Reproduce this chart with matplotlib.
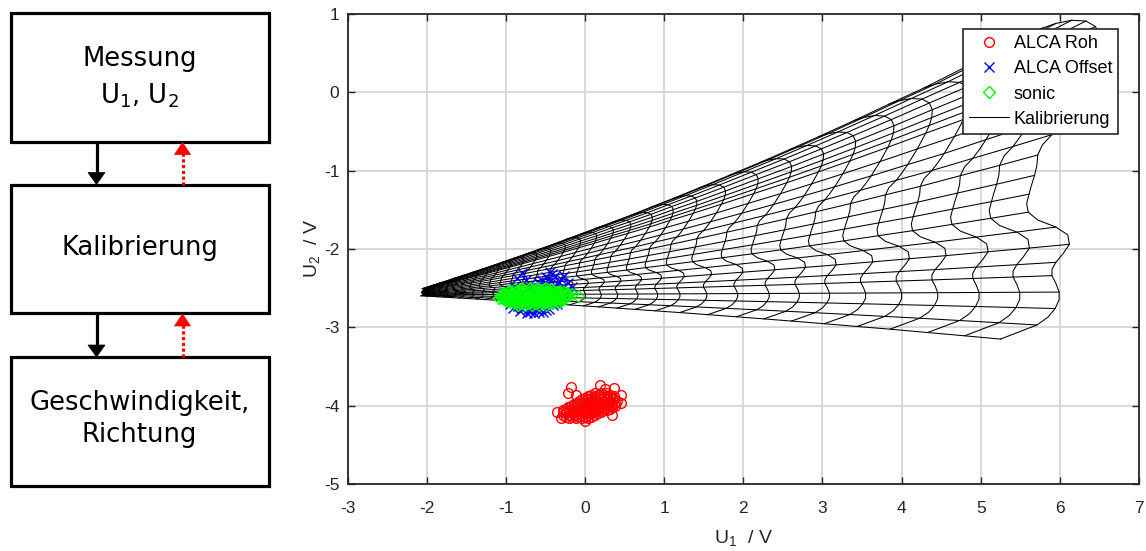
import numpy as np
import matplotlib
matplotlib.use('Agg')
import matplotlib.pyplot as plt
from matplotlib.patches import Rectangle, Polygon
from matplotlib.lines import Line2D

plt.rcParams['font.family'] = ['Liberation Sans', 'DejaVu Sans']
plt.rcParams['mathtext.fontset'] = 'custom'
plt.rcParams['mathtext.rm'] = 'Liberation Sans'
plt.rcParams['mathtext.default'] = 'regular'
plt.rcParams['axes.unicode_minus'] = False

# ---------------- data ----------------
# outer (highest speed) calibration curve, read bottom -> top  (U1 / V, U2 / V)
outer_u1 = [5.25, 5.48, 5.71, 5.85, 5.94, 5.99, 5.99, 5.95, 5.90, 5.90,
            5.95, 6.04, 6.12, 6.10, 5.95, 5.72, 5.60, 5.58, 5.61, 5.64,
            5.68, 5.71, 5.72, 5.78, 5.90, 6.00, 6.09, 6.17, 6.25, 6.32,
            6.39, 6.45, 6.49, 6.50, 6.45, 6.33, 6.15, 5.95, 5.78]
outer_u2 = [-3.15, -3.06, -2.97, -2.87, -2.76, -2.65, -2.55, -2.44, -2.34, -2.26,
            -2.17, -2.06, -1.94, -1.82, -1.72, -1.63, -1.53, -1.42, -1.30, -1.19,
            -1.06, -0.93, -0.80, -0.67, -0.54, -0.40, -0.26, -0.12, 0.02, 0.16,
            0.30, 0.44, 0.58, 0.72, 0.84, 0.91, 0.92, 0.88, 0.82]
# points of the outer curve where the constant-direction lines end
direction_nodes = [0, 2, 4, 6, 8, 10, 12, 14, 16, 18, 20, 22, 24, 26, 28,
                   30, 31, 32, 33, 34, 35, 36, 37, 38]
# point where the calibration fan converges
fan_origin = (-2.3, -2.585)
# relative size of every constant-speed curve (horizontal / vertical)
speed_scale_u1 = [1.000, 0.940, 0.878, 0.815, 0.760, 0.705, 0.650, 0.604, 0.558,
                  0.510, 0.463, 0.422, 0.388, 0.358, 0.327, 0.302, 0.278, 0.255,
                  0.233, 0.212, 0.192, 0.173, 0.155, 0.138, 0.122, 0.107, 0.093,
                  0.080, 0.068, 0.057, 0.047, 0.038, 0.030]
speed_scale_u2 = [1.000, 0.926, 0.852, 0.776, 0.715, 0.653, 0.593, 0.544, 0.496,
                  0.448, 0.401, 0.361, 0.329, 0.300, 0.272, 0.250, 0.228, 0.208,
                  0.188, 0.170, 0.153, 0.137, 0.122, 0.108, 0.095, 0.083, 0.072,
                  0.062, 0.052, 0.044, 0.036, 0.029, 0.023]

roh_u1 = [-0.20, -0.12, -0.04, 0.04,
          -0.28, -0.20, -0.12, -0.04, 0.04, 0.12,
          -0.28, -0.20, -0.12, -0.04, 0.04, 0.12, 0.20,
          -0.24, -0.16, -0.08, 0.00, 0.08, 0.16, 0.24, 0.32,
          -0.18, -0.10, -0.02, 0.06, 0.14, 0.22, 0.30, 0.38,
          -0.10, -0.02, 0.06, 0.14, 0.22, 0.30, 0.38,
          -0.04, 0.04, 0.12, 0.20, 0.28, 0.36,
          0.04, 0.12, 0.20, 0.28, 0.36,
          0.12, 0.20, 0.28,
          -0.24, -0.16, -0.08, 0.00, 0.08,
          -0.24, -0.16, -0.08, 0.00, 0.08, 0.16,
          -0.28, -0.20, -0.12, -0.04, 0.04, 0.12, 0.20, 0.28,
          -0.22, -0.14, -0.06, 0.02, 0.10, 0.18, 0.26, 0.34,
          -0.14, -0.06, 0.02, 0.10, 0.18, 0.26, 0.34,
          -0.08, 0.00, 0.08, 0.16, 0.24, 0.32, 0.40,
          0.00, 0.08, 0.16, 0.24, 0.32,
          0.08, 0.16, 0.24, 0.32,
          -0.18, -0.22, 0.19, 0.36, 0.45, 0.45, 0.34, -0.35, -0.30, 0.00, 0.25, -0.12]
roh_u2 = [-4.16, -4.16, -4.16, -4.16,
          -4.12, -4.12, -4.12, -4.12, -4.12, -4.12,
          -4.08, -4.08, -4.08, -4.08, -4.08, -4.08, -4.08,
          -4.04, -4.04, -4.04, -4.04, -4.04, -4.04, -4.04, -4.04,
          -4.00, -4.00, -4.00, -4.00, -4.00, -4.00, -4.00, -4.00,
          -3.96, -3.96, -3.96, -3.96, -3.96, -3.96, -3.96,
          -3.92, -3.92, -3.92, -3.92, -3.92, -3.92,
          -3.88, -3.88, -3.88, -3.88, -3.88,
          -3.84, -3.84, -3.84,
          -4.14, -4.14, -4.14, -4.14, -4.14,
          -4.10, -4.10, -4.10, -4.10, -4.10, -4.10,
          -4.06, -4.06, -4.06, -4.06, -4.06, -4.06, -4.06, -4.06,
          -4.02, -4.02, -4.02, -4.02, -4.02, -4.02, -4.02, -4.02,
          -3.98, -3.98, -3.98, -3.98, -3.98, -3.98, -3.98,
          -3.94, -3.94, -3.94, -3.94, -3.94, -3.94, -3.94,
          -3.90, -3.90, -3.90, -3.90, -3.90,
          -3.86, -3.86, -3.86, -3.86,
          -3.76, -3.84, -3.74, -3.78, -3.87, -3.97, -4.12, -4.08, -4.16, -4.20, -3.79, -3.86]

offset_u1 = [-0.80, -0.86, -0.44, -0.27, -0.17, -0.50, -0.38, -0.33, -0.22, -0.60,
             -0.70, -0.48, -0.40, -0.28, -0.55, -0.30, -0.45, -0.75, -0.90, -0.65,
             -0.65, -0.91, -0.53, -0.60, -0.70, -0.80, -0.85, -0.45, -0.55, -0.75,
             -0.95, -0.40, -0.62, -0.68, -0.35, -1.00, -0.20, -0.30, -0.90,
             -0.42, -0.35, -0.52, -0.58, -0.72, -0.50, -0.82, -0.74]
offset_u2 = [-2.31, -2.37, -2.29, -2.35, -2.48, -2.36, -2.34, -2.42, -2.44, -2.42,
             -2.45, -2.45, -2.48, -2.48, -2.40, -2.38, -2.38, -2.40, -2.48, -2.47,
             -2.82, -2.75, -2.80, -2.78, -2.80, -2.76, -2.73, -2.76, -2.74, -2.72,
             -2.70, -2.72, -2.76, -2.74, -2.70, -2.60, -2.56, -2.60, -2.55,
             -2.32, -2.44, -2.43, -2.81, -2.77, -2.78, -2.79, -2.82]

sonic_u1 = [-0.80, -0.70, -0.60, -0.50,
            -0.95, -0.86, -0.77, -0.68, -0.59, -0.50, -0.41, -0.32,
            -1.02, -0.93, -0.84, -0.75, -0.66, -0.57, -0.48, -0.39, -0.30, -0.23,
            -1.06, -0.97, -0.88, -0.79, -0.70, -0.61, -0.52, -0.43, -0.34, -0.26,
            -1.05, -0.96, -0.87, -0.78, -0.69, -0.60, -0.51, -0.42, -0.33, -0.25,
            -1.01, -0.92, -0.83, -0.74, -0.65, -0.56, -0.47, -0.38, -0.29,
            -0.95, -0.86, -0.77, -0.68, -0.59, -0.50, -0.41, -0.33,
            -0.85, -0.76, -0.67, -0.58, -0.49,
            -0.88, -0.79, -0.70, -0.61, -0.52, -0.43,
            -0.98, -0.89, -0.80, -0.71, -0.62, -0.53, -0.44, -0.35, -0.27,
            -1.03, -0.94, -0.85, -0.76, -0.67, -0.58, -0.49, -0.40, -0.31, -0.22,
            -1.04, -0.95, -0.86, -0.77, -0.68, -0.59, -0.50, -0.41, -0.32, -0.23,
            -1.02, -0.93, -0.84, -0.75, -0.66, -0.57, -0.48, -0.39, -0.30,
            -0.98, -0.89, -0.80, -0.71, -0.62, -0.53, -0.44, -0.35,
            -0.90, -0.81, -0.72, -0.63, -0.54, -0.45,
            -0.085, -0.17, -1.09]
sonic_u2 = [-2.50, -2.50, -2.50, -2.50,
            -2.53, -2.53, -2.53, -2.53, -2.53, -2.53, -2.53, -2.53,
            -2.56, -2.56, -2.56, -2.56, -2.56, -2.56, -2.56, -2.56, -2.56, -2.56,
            -2.59, -2.59, -2.59, -2.59, -2.59, -2.59, -2.59, -2.59, -2.59, -2.59,
            -2.62, -2.62, -2.62, -2.62, -2.62, -2.62, -2.62, -2.62, -2.62, -2.62,
            -2.65, -2.65, -2.65, -2.65, -2.65, -2.65, -2.65, -2.65, -2.65,
            -2.68, -2.68, -2.68, -2.68, -2.68, -2.68, -2.68, -2.68,
            -2.71, -2.71, -2.71, -2.71, -2.71,
            -2.515, -2.515, -2.515, -2.515, -2.515, -2.515,
            -2.545, -2.545, -2.545, -2.545, -2.545, -2.545, -2.545, -2.545, -2.545,
            -2.575, -2.575, -2.575, -2.575, -2.575, -2.575, -2.575, -2.575, -2.575, -2.575,
            -2.605, -2.605, -2.605, -2.605, -2.605, -2.605, -2.605, -2.605, -2.605, -2.605,
            -2.635, -2.635, -2.635, -2.635, -2.635, -2.635, -2.635, -2.635, -2.635,
            -2.665, -2.665, -2.665, -2.665, -2.665, -2.665, -2.665, -2.665,
            -2.695, -2.695, -2.695, -2.695, -2.695, -2.695,
            -2.60, -2.58, -2.62]

x_ticks = [-3, -2, -1, 0, 1, 2, 3, 4, 5, 6, 7]
y_ticks = [-5, -4, -3, -2, -1, 0, 1]

flow_lines = [['Messung', r'U$_1$, U$_2$'], ['Kalibrierung'], ['Geschwindigkeit,', 'Richtung']]
flow_line_y = [[59, 96], [248], [403, 435]]

# ---------------- figure ----------------
fig = plt.figure(figsize=(11.46, 5.51), dpi=100)

# flow chart (pixel coordinates)
fc = fig.add_axes([0, 0, 1, 1])
fc.set_xlim(0, 1146)
fc.set_ylim(551, 0)
fc.axis('off')
box_tops = [13, 184.5, 357]
for top, lines, ys in zip(box_tops, flow_lines, flow_line_y):
    fc.add_patch(Rectangle((10.5, top), 258.5, 128.5, fill=False, ec='black', lw=2.3))
    for txt, yy in zip(lines, ys):
        fc.text(139.5, yy, txt, ha='center', va='center', fontsize=18.6,
                family='DejaVu Sans')
for k in range(2):
    b_bot = box_tops[k] + 128.5
    b_top = box_tops[k + 1]
    # black arrow down
    fc.plot([96.5, 96.5], [b_bot, b_top - 11], color='black', lw=2.3, solid_capstyle='butt')
    fc.add_patch(Polygon([[88, b_top - 12], [105, b_top - 12], [96.5, b_top]],
                         closed=True, fc='black', ec='black', lw=0.5))
    # red dotted arrow up
    fc.plot([182.5, 182.5], [b_top, b_bot + 12], color='red', lw=2.3,
            linestyle=(0, (1.0, 0.8)), dash_capstyle='butt')
    fc.add_patch(Polygon([[174.5, b_bot + 13], [190.5, b_bot + 13], [182.5, b_bot + 1]],
                         closed=True, fc='red', ec='red', lw=0.5))

# chart
ax = fig.add_axes([0.3034, 0.1216, 0.6905, 0.853])
ax.set_xlim(-3, 7)
ax.set_ylim(-5, 1)
ax.set_xticks(x_ticks)
ax.set_yticks(y_ticks)
ax.grid(True, color='#d5d5d5', lw=1.3)
ax.set_axisbelow(True)
ax.tick_params(direction='in', top=True, right=True, length=5, width=1,
               color='#262626', labelcolor='#262626', labelsize=12.5)
ax.tick_params(axis='x', pad=12)
ax.tick_params(axis='y', pad=6)
for s in ax.spines.values():
    s.set_color('#262626')
    s.set_linewidth(1.3)

ou1 = np.array(outer_u1)
ou2 = np.array(outer_u2)
sx = np.array(speed_scale_u1)
sy = np.array(speed_scale_u2)
cu1 = fan_origin[0] + sx[:, None] * (ou1[None, :] - fan_origin[0])
cu2 = fan_origin[1] + sy[:, None] * (ou2[None, :] - fan_origin[1])

mesh_kw = dict(color='black', lw=0.75, zorder=2)
for i in range(len(sx)):
    ax.plot(cu1[i], cu2[i], **mesh_kw)
for k in direction_nodes:
    ax.plot(cu1[:, k], cu2[:, k], **mesh_kw)

ax.plot(roh_u1, roh_u2, ls='none', marker='o', ms=7, mfc='none', mec=(1, 0, 0), mew=1.0, zorder=3)
ax.plot(offset_u1, offset_u2, ls='none', marker='x', ms=7, mec=(0, 0, 1), mew=1.0, zorder=4)
ax.plot(sonic_u1, sonic_u2, ls='none', marker='D', ms=6, mfc='none', mec=(0, 1, 0), mew=1.0, zorder=5)

handles = [Line2D([], [], ls='none', marker='o', ms=7, mfc='none', mec=(1, 0, 0), mew=1.0),
           Line2D([], [], ls='none', marker='x', ms=7, mec=(0, 0, 1), mew=1.0),
           Line2D([], [], ls='none', marker='D', ms=6, mfc='none', mec=(0, 1, 0), mew=1.0),
           Line2D([], [], color='black', lw=0.75)]
labels = ['ALCA Roh', 'ALCA Offset', 'sonic', 'Kalibrierung']
leg = ax.legend(handles, labels, loc='upper right', bbox_to_anchor=(0.974, 0.968),
                borderaxespad=0, fancybox=False, edgecolor='#262626', framealpha=1,
                fontsize=13, handlelength=2.2, handletextpad=0.25, labelspacing=0.45,
                borderpad=0.35)
leg.get_frame().set_linewidth(1.2)
leg.set_zorder(10)

ax.set_xlabel(r'U$_1$  / V', fontsize=14, color='#262626', labelpad=9)
ax.set_ylabel(r'U$_2$  / V', fontsize=14, color='#262626', labelpad=1)

fig.savefig('out.png', dpi=100)
